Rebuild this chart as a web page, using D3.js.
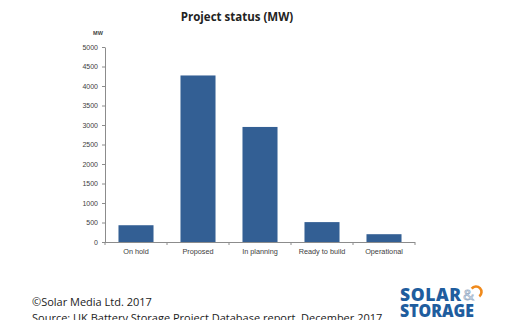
<!DOCTYPE html>
<html><head><meta charset="utf-8">
<script src="https://cdn.jsdelivr.net/npm/d3@7"></script>
<style>body{margin:0;background:#fff}svg{display:block}</style>
</head><body>
<svg id="c" width="510" height="320"></svg>
<script>
const categories = ["On hold", "Proposed", "In planning", "Ready to build", "Operational"];
const values = [430, 4270, 2950, 510, 200];
const yTicks = [0, 500, 1000, 1500, 2000, 2500, 3000, 3500, 4000, 4500, 5000];
const title = "Project status (MW)";
const unitLabel = "MW";
const footer = ["©Solar Media Ltd. 2017", "Source: UK Battery Storage Project Database report, December 2017"];

const svg = d3.select("#c");
const pL = 105, pR = 415, pT = 47, pB = 242;
const x = d3.scaleBand().domain(categories).range([pL, pR]).paddingInner(0.435).paddingOuter(0.2175);
const y = d3.scaleLinear().domain([0, 5000]).range([pB, pT]);
const txt = "#404040", axc = "#8c8c8c", bar = "#335f94";

svg.append("text").attr("x", 237).attr("y", 21).attr("text-anchor", "middle")
  .attr("font-family", "Open Sans").attr("font-weight", "bold").attr("font-size", 11.5)
  .attr("fill", "#222").text(title);
svg.append("text").attr("x", 98).attr("y", 35).attr("text-anchor", "middle")
  .attr("font-family", "Liberation Sans").attr("font-weight", "bold").attr("font-size", 5.5)
  .attr("fill", txt).text(unitLabel);

// bars
svg.append("g").selectAll("rect").data(values).join("rect")
  .attr("x", (d, i) => x(categories[i])).attr("width", x.bandwidth())
  .attr("y", d => y(d)).attr("height", d => y(0) - y(d)).attr("fill", bar);

// y axis
const ya = svg.append("g").attr("transform", `translate(${pL},0)`)
  .call(d3.axisLeft(y).tickValues(yTicks).tickFormat(d3.format("d")).tickSize(3).tickPadding(4).tickSizeOuter(0));
ya.select(".domain").attr("stroke", axc);
ya.selectAll("line").attr("stroke", axc);
ya.selectAll("text").attr("font-family", "Liberation Sans").attr("font-size", 7).attr("fill", txt);

// x axis
const xa = svg.append("g").attr("transform", `translate(0,${pB})`)
  .call(d3.axisBottom(x).tickSize(0).tickPadding(7).tickSizeOuter(0));
xa.select(".domain").attr("stroke", axc).attr("d", `M${pL},0.5H${pR}`);
xa.selectAll("text").attr("font-family", "Liberation Sans").attr("font-size", 7.3).attr("fill", txt);
const step = x.step();
svg.append("g").selectAll("line").data(d3.range(0, categories.length + 1)).join("line")
  .attr("x1", i => pL + i * step).attr("x2", i => pL + i * step)
  .attr("y1", pB).attr("y2", pB + 3).attr("stroke", axc);

// footer
svg.append("text").attr("x", 32).attr("y", 306).attr("font-family", "Open Sans").attr("font-size", 11)
  .attr("fill", "#222").text(footer[0]);
svg.append("text").attr("x", 32).attr("y", 322).attr("font-family", "Open Sans").attr("font-size", 11)
  .attr("fill", "#222").text(footer[1]);

// logo
const lg = svg.append("g").attr("font-family", "Open Sans").attr("font-weight", "800").attr("fill", "#1f5d9e");
lg.append("text").attr("x", 400).attr("y", 301).attr("font-size", 17.5)
  .attr("textLength", 61).attr("lengthAdjust", "spacing").text("SOLAR");
lg.append("text").attr("x", 400).attr("y", 317).attr("font-size", 17.5)
  .attr("textLength", 74).attr("lengthAdjust", "spacingAndGlyphs").text("STORAGE");
svg.append("text").attr("x", 463).attr("y", 300).attr("font-family", "Open Sans").attr("font-size", 15)
  .attr("fill", "none").attr("stroke", "#9bb0c8").attr("stroke-width", 0.8).text("&");
svg.append("path").attr("d", d3.arc()({innerRadius: 4.2, outerRadius: 6.8, startAngle: -0.9, endAngle: 2.5}))
  .attr("transform", "translate(476,292)").attr("fill", "#f08a1c");
</script>
</body></html>
